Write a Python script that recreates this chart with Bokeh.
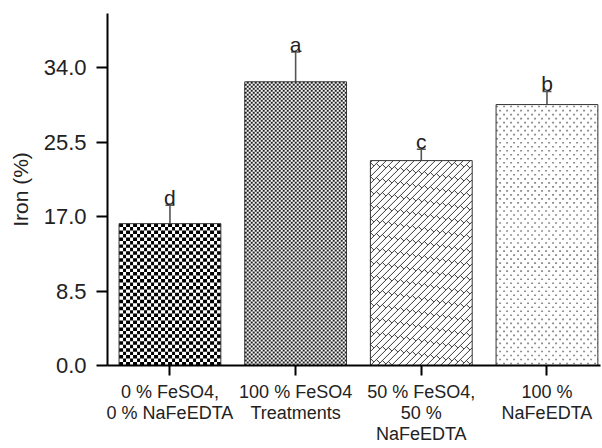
import math

from bokeh.plotting import figure
from bokeh.models import (ColumnDataSource, Range1d, FixedTicker, Whisker, TeeHead,
                          PrintfTickFormatter)
from bokeh.embed import file_html
from bokeh.resources import INLINE
from bokeh.core.properties import value

# ---- data ----
treatments = ["0 % FeSO4,\n0 % NaFeEDTA", "100 % FeSO4\nTreatments",
              "50 % FeSO4,\n50 %\nNaFeEDTA", "100 %\nNaFeEDTA"]
iron = [16.2, 32.4, 23.4, 29.8]
iron_err = [2.1, 3.4, 1.3, 1.5]
letters = ["d", "a", "c", "b"]
y_ticks = [0.0, 8.5, 17.0, 25.5, 34.0]

# ---- layout ----
W_FIG, H_FIG = 602, 448
B_LEFT, B_RIGHT, B_TOP, B_BOTTOM = 107, 2, 13, 83
X_START, X_END = -0.497, 3.426
Y_START, Y_END = 0.0, 40.2
BAR_W = 0.81
XPP = (X_END - X_START) / (W_FIG - B_LEFT - B_RIGHT)   # data units per pixel
YPP = (Y_END - Y_START) / (H_FIG - B_TOP - B_BOTTOM)

xs = list(range(len(treatments)))
upper = [v + e for v, e in zip(iron, iron_err)]

p = figure(width=W_FIG, height=H_FIG, output_backend="svg", toolbar_location=None,
           x_range=Range1d(X_START, X_END), y_range=Range1d(Y_START, Y_END),
           min_border_left=B_LEFT, min_border_right=B_RIGHT, min_border_top=B_TOP,
           min_border_bottom=B_BOTTOM)
p.outline_line_color = None
p.grid.visible = False
p.background_fill_color = "white"
p.border_fill_color = "white"


# ---- fill textures built from each bar's extent ----
def dashed_rows(i, row_px, specs, color, lw=None):
    """Horizontal dashed rows filling bar i; (dash, offset) specs cycle per row."""
    left = xs[i] - BAR_W / 2
    right = xs[i] + BAR_W / 2
    top = iron[i]
    n = max(1, round(top / YPP / row_px))
    rh = top / n
    width = rh / YPP if lw is None else lw
    groups = {}
    for j in range(n):
        groups.setdefault(j % len(specs), []).append((j + 0.5) * rh)
    for k, ys in groups.items():
        dash, off = specs[k]
        p.segment(x0=[left] * len(ys), y0=ys, x1=[right] * len(ys), y1=ys,
                  line_color=color, line_width=width, line_dash=dash,
                  line_dash_offset=off, line_cap="butt")


def brick(i, period, joint_gap, color):
    left = xs[i] - BAR_W / 2
    Wp = BAR_W / XPP
    Hp = iron[i] / YPP
    x0s, y0s, x1s, y1s = [], [], [], []

    def add(u0, v0, u1, v1):
        x0s.append(left + u0 * XPP)
        y0s.append(v0 * YPP)
        x1s.append(left + u1 * XPP)
        y1s.append(v1 * YPP)

    m = 0
    b = -math.ceil(Wp / period) * period
    half = period / 2
    while b < Hp:
        u_lo = max(0.0, -b)
        u_hi = min(Wp, Hp - b)
        if u_lo < u_hi:
            add(u_lo, u_lo + b, u_hi, u_hi + b)
        u0 = (m % 2) * joint_gap / 2
        while u0 + half <= Wp:
            v0 = u0 + b
            u1, v1 = u0 + half, v0 - half
            if 0 <= v1 and v0 <= Hp:
                add(u0, v0, u1, v1)
            u0 += joint_gap
        b += period
        m += 1
    p.segment(x0=x0s, y0=y0s, x1=x1s, y1=y1s, line_color=color, line_width=1)


# bar 1: checkerboard
dashed_rows(0, 3.5, [("4 3", 0), ("3 4", 3)], "#000000")
# bar 2: dense dark weave (fine staggered speckle)
dashed_rows(1, 2.0, [("2 2", 0), ("2 2", 2)], "#222222")
# bar 3: diagonal brickwork
brick(2, 7, 12, "#3a3a3a")
# bar 4: light speckle
dashed_rows(3, 4.0, [("2 5", 0), ("2 5", 4)], "#8f8f8f", lw=1.6)

# bar outlines on top of the textures
src = ColumnDataSource(dict(x=xs, iron=iron, upper=upper, letter=letters))
p.vbar(x="x", top="iron", width=BAR_W, source=src, fill_color=None,
       line_color="#333333", line_width=1)

w = Whisker(base="x", upper="upper", lower="iron", source=src, dimension="height",
            line_color="#555555", line_width=1.6,
            upper_head=TeeHead(size=9, line_color="#555555", line_width=1.6),
            lower_head=None)
p.add_layout(w)

p.text(x="x", y="upper", text="letter", source=src, text_align="center",
       text_baseline="alphabetic", y_offset=-8,
       text_font=value("Liberation Sans"), text_font_size="21px", text_color="#222222")

# axes
for ax in (p.xaxis[0], p.yaxis[0]):
    ax.axis_line_color = "black"
    ax.axis_line_width = 2
    ax.major_tick_line_color = "black"
    ax.major_tick_line_width = 2
    ax.major_tick_in = 0
    ax.minor_tick_line_color = None
    ax.major_label_text_font = "Liberation Sans"
    ax.major_label_text_color = "#222222"

yax = p.yaxis[0]
yax.ticker = FixedTicker(ticks=y_ticks)
yax.formatter = PrintfTickFormatter(format="%.1f")
yax.major_tick_out = 11
yax.major_label_standoff = 10
yax.major_label_text_font_size = "22px"
yax.axis_label = "Iron (%)"
yax.axis_label_text_font = "Liberation Sans"
yax.axis_label_text_font_size = "21px"
yax.axis_label_text_font_style = "normal"
yax.axis_label_text_color = "#222222"
yax.axis_label_standoff = 9

xax = p.xaxis[0]
xax.ticker = FixedTicker(ticks=xs)
xax.major_label_overrides = {i: t for i, t in zip(xs, treatments)}
xax.major_tick_out = 10
xax.major_label_standoff = 6
xax.major_label_text_font_size = "18px"
xax.major_label_text_line_height = 1.05

open("out.html", "w").write(file_html(p, INLINE))
